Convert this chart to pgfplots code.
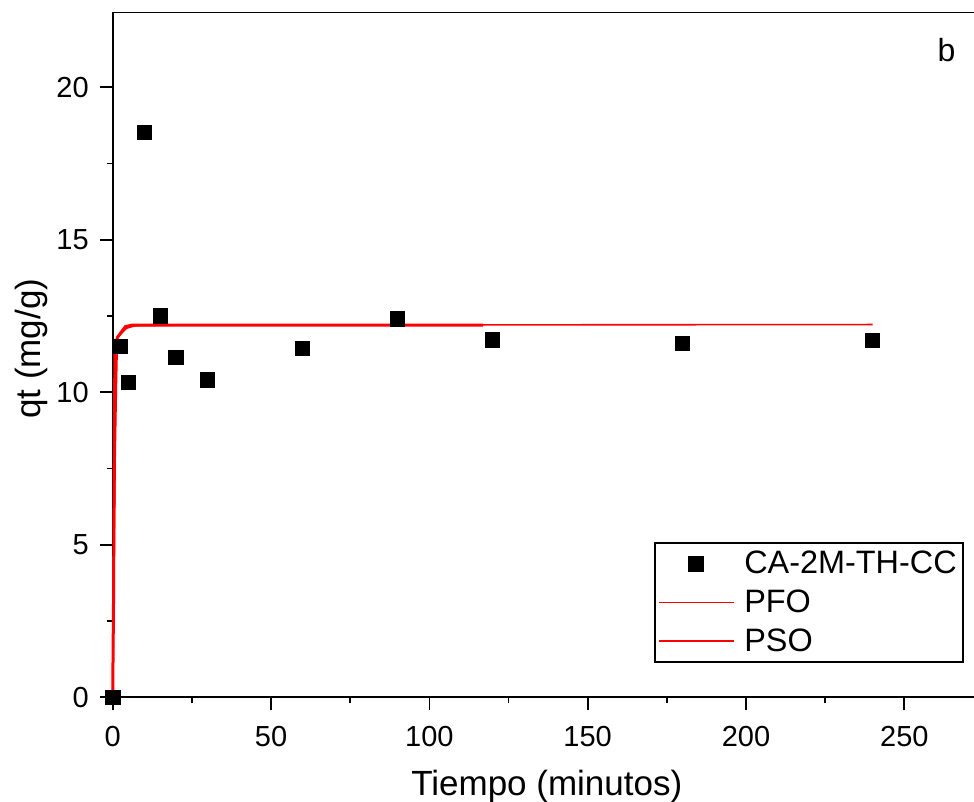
\documentclass[border=0pt]{standalone}
\usepackage{fontspec}
\setmainfont{Liberation Sans}
\usepackage{pgfplots}
\pgfplotsset{compat=1.18}
\pgfplotsset{
  marklegend/.style={legend image code/.code={\draw[mark repeat=2,mark phase=2,##1] plot coordinates {(0bp,0bp)(18.75bp,0bp)(37.5bp,0bp)};}},
  linelegend/.style={legend image code/.code={\draw[##1, line width=0.8bp] (0bp,0bp) -- (37.5bp,0bp);}},
}
\begin{document}
\begin{tikzpicture}
\useasboundingbox (0,0) rectangle (487bp,401bp);
\begin{axis}[
  at={(56.35bp,52.35bp)}, anchor=south west,
  scale only axis, width=430.65bp, height=342.4bp,
  xmin=0, xmax=272, ymin=0, ymax=22.45,
  axis x line*=bottom, axis y line*=left,
  axis line style={line width=0.85bp,-,black},
  tick align=outside,
  major tick length=6.5bp, minor tick length=3bp,
  every tick/.style={black, line width=0.85bp},
  xtick={0,50,...,250}, ytick={0,5,...,20},
  minor xtick={25,75,125,175,225},
  minor ytick={2.5,7.5,12.5,17.5},
  clip=false,
  /pgf/number format/assume math mode=true,
  tick label style={font=\fontsize{14.5bp}{17bp}\selectfont},
  xticklabel style={yshift=-4.5bp},
  yticklabel style={xshift=-2bp},
  xlabel={Tiempo (minutos)}, ylabel={qt (mg/g)},
  label style={font=\fontsize{17.5bp}{21bp}\selectfont},
  xlabel style={at={(axis description cs:0.504,-0.1427)}, anchor=base},
  ylabel style={at={(axis description cs:-0.0844,0.509)}, anchor=base},
  legend cell align=left,
  legend style={at={(axis cs:268.7,5.08)}, anchor=north east,
    draw=black, line width=0.85bp,
    font=\fontsize{16.2bp}{19bp}\selectfont,
    nodes={inner sep=1.5bp}, column sep=3.5bp, row sep=3.5bp,
    inner xsep=1.5bp, inner ysep=2.5bp},
]
\addplot[only marks, mark=square*, mark size=3.6bp, black, marklegend]
  coordinates {
  (0,0) (2.5,11.5) (5,10.33) (10,18.51) (15,12.5) (20,11.15) (30,10.4)
  (60,11.44) (90,12.4) (120,11.72) (180,11.6) (240,11.71)
  };
\addlegendentry{CA-2M-TH-CC}
\addplot[red, line width=1.5bp, linelegend]
  coordinates {
  (0,0) (0.25,3.0) (0.45,7.0) (0.7,11.4) (1.5,11.8) (4,12.15) (6,12.2) (117,12.2)
  };
\addlegendentry{PFO}
\addplot[red, line width=0.8bp, linelegend]
  coordinates {
  (0,0) (0.3,3.0) (0.8,8.0) (1.2,10.4) (1.5,11.8) (4.4,12.1) (7,12.18) (20,12.2) (240,12.22)
  };
\addlegendentry{PSO}
\draw[line width=0.85bp, black] (rel axis cs:0,1) -- (rel axis cs:1,1);
\node[font=\fontsize{16bp}{19bp}\selectfont] at (axis cs:263.3,21.22) {b};
\end{axis}
\end{tikzpicture}
\end{document}
